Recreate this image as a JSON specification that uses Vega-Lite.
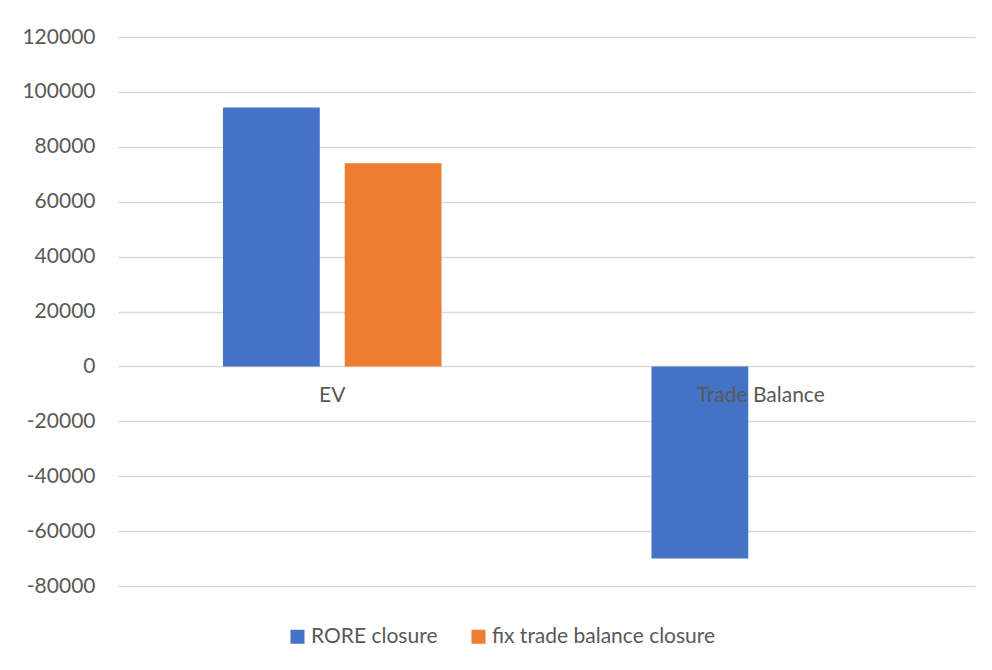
{
  "$schema": "https://vega.github.io/schema/vega-lite/v6.json",
  "width": 857,
  "height": 549,
  "autosize": {"type": "none"},
  "padding": {"left": 118, "top": 37, "right": 17, "bottom": 84},
  "background": "white",
  "config": {"view": {"stroke": null}, "font": "Lato"},
  "data": {
    "values": [
      {"category": "EV", "series": "RORE closure", "value": 94300},
      {"category": "EV", "series": "fix trade balance closure", "value": 74000},
      {"category": "Trade Balance", "series": "RORE closure", "value": -70000},
      {"category": "Trade Balance", "series": "fix trade balance closure", "value": 0}
    ]
  },
  "layer": [
    {
      "mark": {"type": "bar"},
      "encoding": {
        "x": {
          "field": "category",
          "type": "nominal",
          "sort": ["EV", "Trade Balance"],
          "scale": {"paddingInner": 0.49, "paddingOuter": 0.245},
          "axis": null
        },
        "xOffset": {
          "field": "series",
          "type": "nominal",
          "sort": ["RORE closure", "fix trade balance closure"],
          "scale": {"paddingInner": 0.205}
        },
        "y": {
          "field": "value",
          "type": "quantitative",
          "scale": {"domain": [-80000, 120000], "nice": false, "zero": false},
          "axis": {
            "title": null,
            "values": [-80000, -60000, -40000, -20000, 0, 20000, 40000, 60000, 80000, 100000, 120000],
            "labelExpr": "toString(datum.value)",
            "grid": true,
            "gridColor": "#D9D9D9",
            "gridWidth": 1.5,
            "domain": false,
            "ticks": false,
            "labelColor": "#595959",
            "labelFontSize": 21,
            "labelFont": "Lato",
            "labelPadding": 23
          }
        },
        "color": {
          "field": "series",
          "type": "nominal",
          "scale": {
            "domain": ["RORE closure", "fix trade balance closure"],
            "range": ["#4472C4", "#ED7D31"]
          },
          "legend": {
            "title": null,
            "orient": "none",
            "legendX": 169,
            "legendY": 589,
            "direction": "horizontal",
            "symbolType": "square",
            "symbolSize": 196,
            "symbolStrokeWidth": 0,
            "labelFontSize": 21,
            "labelFont": "Lato",
            "labelColor": "#595959",
            "labelOffset": 3,
            "labelLimit": 0,
            "columnPadding": 30
          }
        }
      }
    },
    {
      "transform": [{"filter": "datum.series === 'RORE closure'"}],
      "mark": {"type": "text", "dy": 30, "fontSize": 21, "font": "Lato", "color": "#595959", "baseline": "middle", "align": "center"},
      "encoding": {
        "x": {"field": "category", "type": "nominal", "sort": ["EV", "Trade Balance"]},
        "y": {"datum": 0},
        "text": {"field": "category"}
      }
    }
  ]
}
